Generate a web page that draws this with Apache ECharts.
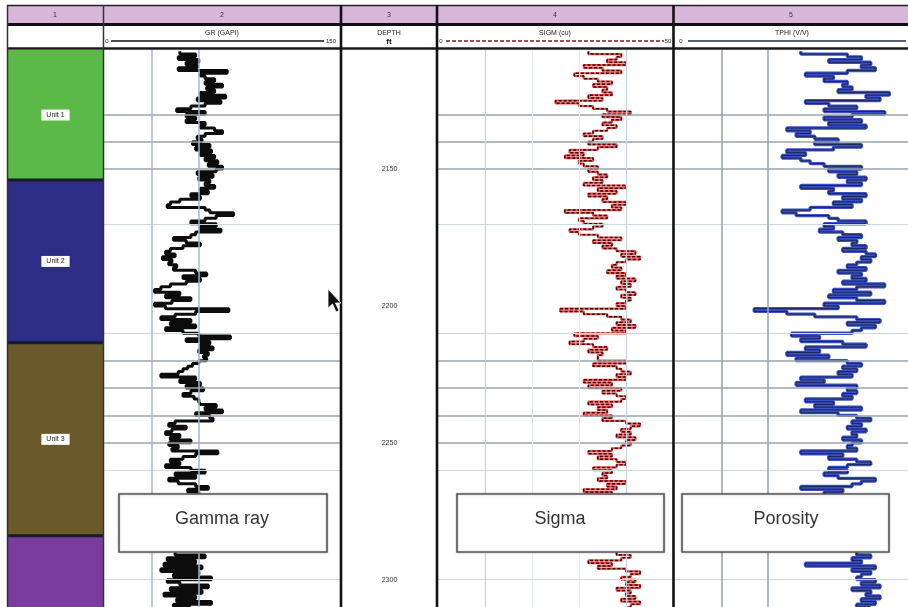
<!DOCTYPE html>
<html><head><meta charset="utf-8">
<script src="https://cdn.jsdelivr.net/npm/echarts/dist/echarts.min.js"></script>
<style>html,body{margin:0;padding:0;background:#fff}#c{width:908px;height:607px}</style>
</head><body><div id="c"></div>
<script>
// ---------------- DATA ----------------
const depthTop = 2106.5, depthBottom = 2310;
const firstSampleDepth = 2107;           // 1 ft sampling, one value per foot
const gammaRay = [
48,58,47,60,52,59, 47,78,61, 64,70,64,75,65,70,61, 77,59,74,64, 55,46,64,52,
58,52,64,61,70,75,64,59,62, 56,67,58,68,61,70,64,72,66,75, 71,59,69,60,67,64,70,61,
66,55,61,48,42,40,64, 67,82,71, 64,55,71,61,74,58, 55,44,52,61,50, 42,39,45,37,43,41,46,44,
58,65,50,61, 52,42,36,32,48,39,55,43,32,39, 79,58, 45,36,55,42,58,39,50, 60,80,52,
67,61,69,60,66,63,65, 60,56,53,50,47,36, 58,48,61,52,63,55,50,57,60, 61,71,64,75,58,67,69,
45,41,52,43,39,48,42,55,41,47,43, 72,58,50, 42,48,39,55,64,45,58,41,47, 58,66,53,60,
null,null,null,null,null,null,null, null,null,null,null,null,null,null, null,null,null,null,null,null,null,
45,64,40,58,38,62, 36,60,44,68,40, 48,66,42,62,38,58,46,68,44,55
];
const sigma = [
32,39, 38,36,40, 31,35, 39, 29,31, 34,37,33,36,35,37, 32,35, 25,30, 33, 36,41,35,39,37,
35,38,36,33, 31,35,33, 32,38,34, 28,31,27,33,30, 31,34,32, 34,36,33, 35,31,40,34,38,32,36,
35,40,37,39, 27,33,36,30, 31,35,33, 28,30, 34,39,33,37,35, 38,42,39,43,40, 38,37,39,36,
40,38,42,39,41,38,40,42,39,41,40,38,40, 26,31,36, 39, 41,38,42,37,40, 29,34,31,28,
33,36,32,35,34, 34,40,33,38, 39,41,38,40, 31,37, 32,39,35, 38,40,39, 32,37,34,36, 31,37,35,
40,43,41, 39,41,38,42,40,41,39, 37, 32,37,34, 38,40,38, 33,37,35,36, 34,40,36,38, 31,37,
null,null,null,null,null,null,null, null,null,null,null,null,null,null, null,null,null,null,null,null,null,
38,41,39, 32,37,34, 40,43,41, 39,42,40,43,38,41,40,42,39,43,41,40
];
const porosity = [
27, 37,40, 33, 42,40,43, 37, 28,34, 32,37, 36,38,35, 46, 41,44, 28, 33,39, 32, 45,38, 32,40,
33,41, 24,29,26, 30,35, 30,40,34, 24,28,23,27, 29,32, 40,33, 39,35,41,37,40, 27,34,
33,41,36,40,34,38, 29,23,26, 33, 35,41, 32,34,31, 36,40,35,39,38,41,36, 41,43,40,42,39,
37,41,35,40,38,41,36, 45,39, 34,42, 33,39, 45, 32,35, 17,24,30, 39,44,37,43,40, 38,
25,31,27, 36,41, 28,31, 24,33,26,37,40, 36,39,35,38, 27,32, 26,39, 37,39,36,38, 28,34,30,40,
27,35,39, 42,38, 40,37,41,38,39,36,40,38, 37,39, 27,36,33, 39,42,37, 33,37,32,35, 43,40,
38,27, 36,32,
null,null,null,null,null,null,null, null,null,null,null,null,null,null, null,null,null,null,null,null,null,
39,42,38, 40,28,43, 38,42,40, 39,43,40,44,38,42,41,44,40,43,39,42
];
const zoneNames  = ['Unit 1', 'Unit 2', 'Unit 3', 'Unit 4'];
const zoneTops   = [2106.5, 2154, 2213.5, 2284];
const zoneBases  = [2154, 2213.5, 2284, 2360];
const zoneColors = ['#5bb947', '#2d2d86', '#6a5a2b', '#7b3d9d'];
const depthLabels = [2150, 2200, 2250, 2300];
const gridMajorDepths = [2130, 2140, 2150, 2220, 2230, 2240, 2250];
const gridMinorDepths = [2170, 2210, 2260, 2300];
const trackNumbers = ['1', '2', '3', '4', '5'];
const curveNames = ['GR (GAPI)', 'DEPTH', 'SIGM (cu)', 'TPHI (V/V)'];
const depthUnit = 'ft';
const gammaScale = [0, 150], sigmaScale = [0, 50], porosityScale = [0, 50];
const annotations = ['Gamma ray', 'Sigma', 'Porosity'];

// ---------------- CHART ----------------
const chart = echarts.init(document.getElementById('c'), null, {renderer: 'canvas'});
const TOP = 50, H = 557;
const grids = [
  {left: 8,   top: TOP, width: 95,  height: H},
  {left: 104, top: TOP, width: 237, height: H},
  {left: 342, top: TOP, width: 95,  height: H},
  {left: 438, top: TOP, width: 235, height: H},
  {left: 675, top: TOP, width: 236, height: H}
];
const xr = [[0,1], gammaScale, [0,1], sigmaScale, porosityScale];
const xAxis = grids.map((g,i)=>({gridIndex:i, type:'value', min:xr[i][0], max:xr[i][1], show:false}));
const yAxis = grids.map((g,i)=>({gridIndex:i, type:'value', inverse:true, min:depthTop, max:depthBottom, show:false}));

function pairs(arr){ return arr.map((v,i)=>[v==null?'-':v, firstSampleDepth+i]); }

function gridHelper(idx, vlines) {
  const data = [];
  gridMinorDepths.forEach(d=>data.push({yAxis:d, lineStyle:{color:'#c9d7e2', width:1, type:'solid'}}));
  gridMajorDepths.forEach(d=>data.push({yAxis:d, lineStyle:{color:'#98a4ad', width:1.6, type:'solid'}}));
  vlines.forEach(v=>data.push({xAxis:v[0], lineStyle:{color:v[1], width:v[2], type:'solid'}}));
  return {type:'line', xAxisIndex:idx, yAxisIndex:idx, z:1, silent:true, showSymbol:false,
    data:[[xr[idx][0], depthTop]], lineStyle:{width:0},
    markLine:{silent:true, symbol:['none','none'], label:{show:false}, animation:false, data}};
}

function curve(idx, arr, color, width, extra) {
  return Object.assign({type:'line', xAxisIndex:idx, yAxisIndex:idx, step:'start', showSymbol:false,
    silent:true, clip:true, z:3, data:pairs(arr), lineStyle:{color, width, join:'bevel'}}, extra||{});
}

const series = [
  {type:'custom', xAxisIndex:0, yAxisIndex:0, clip:true, silent:true,
   data: zoneNames.map((n,i)=>[i, zoneTops[i], zoneBases[i]]),
   renderItem(params, api){
     const i = api.value(0);
     const p0 = api.coord([0, api.value(1)]), p1 = api.coord([1, api.value(2)]);
     return {type:'group', children:[
       {type:'rect', shape:{x:p0[0], y:p0[1], width:p1[0]-p0[0], height:p1[1]-p0[1]}, style:{fill:zoneColors[i]}},
       {type:'line', shape:{x1:p0[0], y1:p0[1], x2:p1[0], y2:p0[1]}, style:{stroke:'#1a1a2a', lineWidth:i?3:0}},
       {type:'text', x:(p0[0]+p1[0])/2, y:(p0[1]+p1[1])/2, style:{text:zoneNames[i], fill:'#222',
         font:'7px "Liberation Sans", Arial, sans-serif', align:'center', verticalAlign:'middle',
         backgroundColor:'#fff', padding:[2,5]}}
     ]};
   }},
  gridHelper(1, [[30,'#aab6c0',1.5],[60,'#aab6c0',1.5]]),
  curve(1, gammaRay, '#0c0c0c', 3),
  {type:'custom', xAxisIndex:2, yAxisIndex:2, silent:true,
   data: depthLabels.map(d=>[0.5, d]),
   renderItem(params, api){
     const p = api.coord([api.value(0), api.value(1)]);
     return {type:'text', x:p[0], y:p[1], style:{text:String(api.value(1)), fill:'#333',
       font:'7px "Liberation Sans", Arial, sans-serif', align:'center', verticalAlign:'middle'}};
   }},
  gridHelper(3, [[10,'#c3d3df',1.2],[20,'#e3eaf0',1],[30,'#e3eaf0',1],[40,'#c3d3df',1.2]]),
  curve(3, sigma, '#ee3030', 2.2, {lineStyle:{color:'#ee3030', width:2.2, opacity:0.85}}),
  curve(3, sigma, '#3a0808', 1.5, {z:4, lineStyle:{color:'#3a0808', width:1.5, type:[3,2]}}),
  gridHelper(4, [[10,'#9aa6ae',1.6],[20,'#9aa6ae',1.6]]),
  curve(4, porosity, '#3a50c4', 3.4),
  curve(4, porosity, '#05050f', 0.8, {z:4, lineStyle:{color:'#05050f', width:0.8, opacity:0.75}})
];

// ---------------- DECORATION (header, borders, notes) ----------------
const F = '"Liberation Sans", Arial, sans-serif';
const g = [];
g.push({type:'rect', shape:{x:7, y:6, width:901, height:17}, style:{fill:'#d8b7da'}});
g.push({type:'rect', shape:{x:7, y:26, width:901, height:22}, style:{fill:'#fff'}});
g.push({type:'line', shape:{x1:7, y1:5.5, x2:908, y2:5.5}, style:{stroke:'#222', lineWidth:1.5}});
g.push({type:'line', shape:{x1:7, y1:24.5, x2:908, y2:24.5}, style:{stroke:'#111', lineWidth:3}});
g.push({type:'line', shape:{x1:7, y1:48.5, x2:908, y2:48.5}, style:{stroke:'#1a1a1a', lineWidth:2.6}});
[[7.5,1.5,'#333'],[103.5,1.5,'#333'],[341,2.6,'#111'],[437,2.6,'#111'],[673.5,2.6,'#111']].forEach(c=>{
  g.push({type:'line', shape:{x1:c[0], y1:5, x2:c[0], y2:607}, style:{stroke:c[2], lineWidth:c[1]}});
});
const centers = [55, 222, 389, 555, 791];
trackNumbers.forEach((t,i)=>g.push({type:'text', x:centers[i], y:15, style:{text:t, font:'7px '+F, fill:'#333', align:'center', verticalAlign:'middle'}}));
g.push({type:'text', x:222, y:33, style:{text:curveNames[0], font:'7px '+F, fill:'#222', align:'center', verticalAlign:'middle'}});
g.push({type:'line', shape:{x1:111, y1:41, x2:324, y2:41}, style:{stroke:'#111', lineWidth:1.5}});
g.push({type:'text', x:107, y:41, style:{text:String(gammaScale[0]), font:'6px '+F, fill:'#222', align:'center', verticalAlign:'middle'}});
g.push({type:'text', x:331, y:41, style:{text:String(gammaScale[1]), font:'6px '+F, fill:'#222', align:'center', verticalAlign:'middle'}});
g.push({type:'text', x:389, y:33, style:{text:curveNames[1], font:'7px '+F, fill:'#222', align:'center', verticalAlign:'middle'}});
g.push({type:'text', x:389, y:42, style:{text:depthUnit, font:'bold 8px '+F, fill:'#111', align:'center', verticalAlign:'middle'}});
g.push({type:'text', x:555, y:33, style:{text:curveNames[2], font:'7px '+F, fill:'#222', align:'center', verticalAlign:'middle'}});
g.push({type:'line', shape:{x1:446, y1:41, x2:664, y2:41}, style:{stroke:'#8b1a1a', lineWidth:1.3, lineDash:[4,2]}});
g.push({type:'text', x:441, y:41, style:{text:String(sigmaScale[0]), font:'6px '+F, fill:'#222', align:'center', verticalAlign:'middle'}});
g.push({type:'text', x:668, y:41, style:{text:String(sigmaScale[1]), font:'6px '+F, fill:'#222', align:'center', verticalAlign:'middle'}});
g.push({type:'text', x:792, y:33, style:{text:curveNames[3], font:'7px '+F, fill:'#222', align:'center', verticalAlign:'middle'}});
g.push({type:'line', shape:{x1:688, y1:41, x2:906, y2:41}, style:{stroke:'#1b2a4a', lineWidth:1.3}});
g.push({type:'text', x:681, y:41, style:{text:String(porosityScale[0]), font:'6px '+F, fill:'#222', align:'center', verticalAlign:'middle'}});
// annotation boxes
[[119,208,222],[457,207,560],[682,207,786]].forEach((b,i)=>{
  g.push({type:'rect', z:100, shape:{x:b[0], y:494, width:b[1], height:58},
    style:{fill:'#fff', stroke:'#5c5c5c', lineWidth:1.6, shadowBlur:2, shadowColor:'rgba(0,0,0,0.3)'}});
  g.push({type:'text', z:101, x:b[2], y:519, style:{text:annotations[i], font:'18px '+F, fill:'#333', align:'center', verticalAlign:'middle'}});
});
// mouse cursor
const ax = 328, ay = 289;
g.push({type:'polygon', z:102, shape:{points:[[0,0],[0,19],[4.5,15],[8,23],[11,21.5],[7.5,14],[13,14]].map(p=>[ax+p[0], ay+p[1]])},
  style:{fill:'#111', stroke:'#fff', lineWidth:0.8}});

chart.setOption({
  animation:false,
  backgroundColor:'#fff',
  grid: grids,
  xAxis, yAxis, series,
  graphic: {elements: g.map(e=>Object.assign({z: e.z || 50, silent:true}, e))}
});
</script>
</body></html>
